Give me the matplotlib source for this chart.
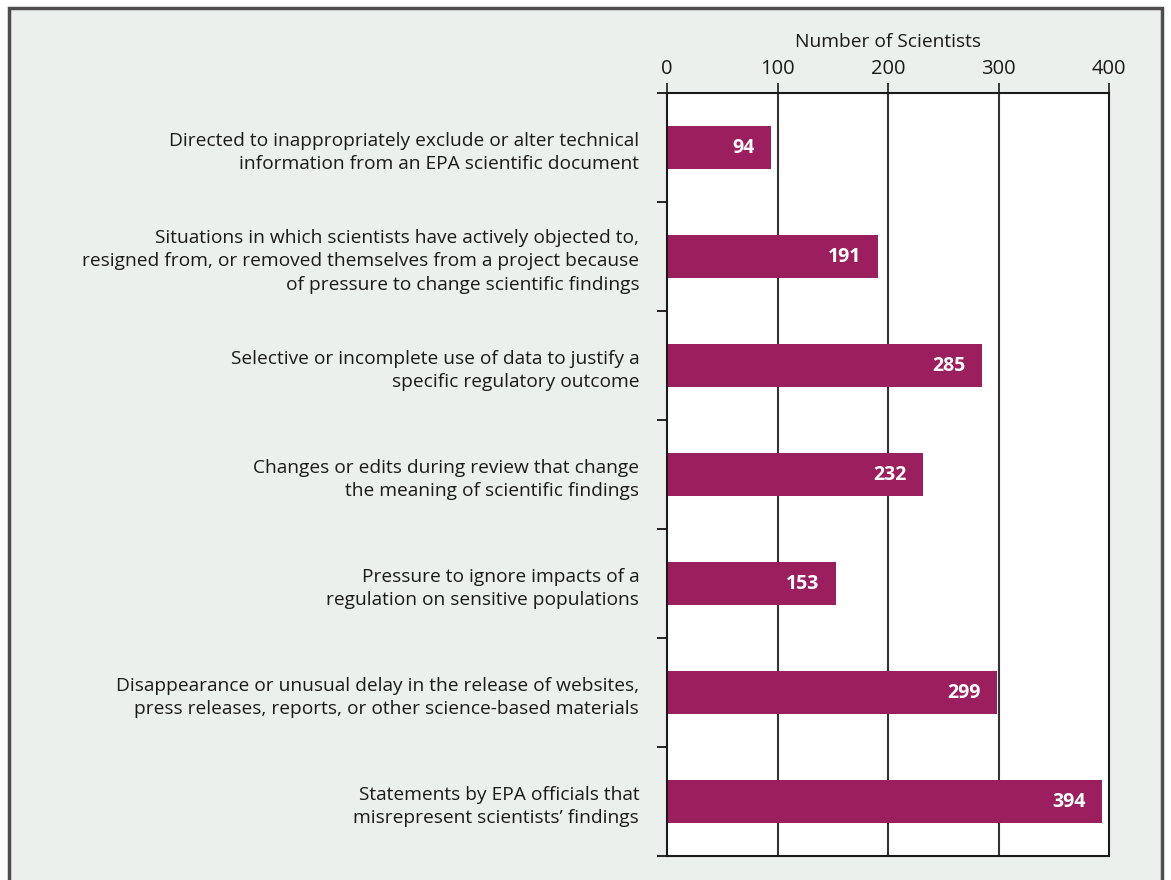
import matplotlib.pyplot as plt
import matplotlib.patches as patches
import numpy as np

plt.rcParams['font.family'] = ['Open Sans', 'DejaVu Sans']

# data
categories = [
    "Directed to inappropriately exclude or alter technical\ninformation from an EPA scientific document",
    "Situations in which scientists have actively objected to,\nresigned from, or removed themselves from a project because\nof pressure to change scientific findings",
    "Selective or incomplete use of data to justify a\nspecific regulatory outcome",
    "Changes or edits during review that change\nthe meaning of scientific findings",
    "Pressure to ignore impacts of a\nregulation on sensitive populations",
    "Disappearance or unusual delay in the release of websites,\npress releases, reports, or other science-based materials",
    "Statements by EPA officials that\nmisrepresent scientists\u2019 findings",
]
counts = [94, 191, 285, 232, 153, 299, 394]
xticks = [0, 100, 200, 300, 400]

bg = '#ebf0ec'
bar_color = '#9b1f5e'

fig = plt.figure(figsize=(11.71, 8.8), dpi=100)
fig.patch.set_facecolor('white')

# grey panel with dark frame (no bottom edge visible)
frame = patches.Rectangle((9 / 1171, -0.05), (1162 - 9) / 1171, 1 - 8 / 880 + 0.05,
                          transform=fig.transFigure, facecolor=bg,
                          edgecolor='#4d4d4d', linewidth=2.5, zorder=-5)
fig.patches.append(frame)

ax = fig.add_axes([667 / 1171, 1 - 856 / 880, (1109 - 667) / 1171, (856 - 93) / 880])
ax.set_facecolor('white')
ax.set_zorder(5)

y = np.arange(len(categories))
ax.barh(y, counts, height=0.40, color=bar_color, zorder=2)

for yi, v in zip(y, counts):
    ax.annotate(str(v), (v, yi), xytext=(-12, 0), textcoords='offset points',
                ha='right', va='center', color='white', fontweight='bold',
                fontsize=14, zorder=3)

ax.set_xlim(0, 400)
ax.set_ylim(len(categories) - 0.5, -0.5)

ax.xaxis.tick_top()
ax.xaxis.set_label_position('top')
ax.set_xticks(xticks)
ax.set_xticklabels([str(t) for t in xticks], fontsize=14.5)
ax.tick_params(axis='x', direction='out', length=7, width=1.2, pad=3, colors='#1a1a1a')
ax.set_xlabel('Number of Scientists', fontsize=13.8, labelpad=9, color='#1a1a1a')

ax.set_yticks(y)
ax.set_yticklabels(categories, fontsize=13.8, color='#1a1a1a', linespacing=1.4)
ax.tick_params(axis='y', which='major', length=0, pad=20)
ax.set_yticks(np.arange(len(categories) + 1) - 0.5, minor=True)
ax.tick_params(axis='y', which='minor', length=7, width=1.2, direction='out')

for t in xticks[1:-1]:
    ax.axvline(t, color='#333333', linewidth=1.5, zorder=1)

for s in ax.spines.values():
    s.set_linewidth(1.5)
    s.set_color('#1a1a1a')

fig.savefig('out.png', dpi=100, facecolor=fig.get_facecolor())
